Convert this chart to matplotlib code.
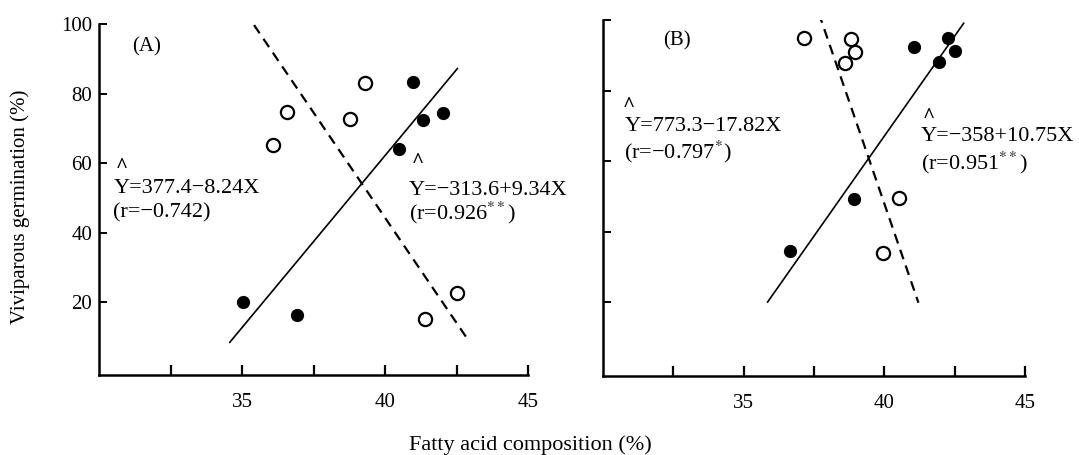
import matplotlib
matplotlib.use("Agg")
import matplotlib.pyplot as plt

plt.rcParams['font.family'] = ['Liberation Serif', 'DejaVu Serif']
plt.rcParams['mathtext.fontset'] = 'stix'

# Panel A data
a_open_x = [36.08, 36.57, 38.78, 39.30, 41.41, 42.53]
a_open_y = [65.3, 74.8, 72.6, 83.0, 15.0, 22.7]
a_fill_x = [35.05, 36.92, 40.47, 40.96, 41.33, 42.01]
a_fill_y = [20.0, 16.3, 64.1, 83.3, 72.3, 74.5]
a_dash_x = [35.42, 42.92]
a_dash_y = [99.7, 8.9]
a_solid_x = [34.57, 42.53]
a_solid_y = [8.4, 87.2]

# Panel B data
b_open_x = [37.14, 38.83, 38.96, 38.61, 40.52, 39.94]
b_open_y = [94.9, 94.6, 90.8, 87.7, 49.5, 33.9]
b_fill_x = [41.07, 42.27, 41.93, 38.92, 36.63, 42.52]
b_fill_y = [92.3, 94.9, 88.0, 49.2, 34.4, 91.3]
b_dash_x = [37.67, 41.21]
b_dash_y = [101.9, 19.8]
b_solid_x = [35.85, 42.82]
b_solid_y = [20.0, 99.1]

x_ticks = [32.5, 35, 37.5, 40, 42.5, 45]
x_ticklabels = ['', '35', '', '40', '', '45']
y_ticks = [20, 40, 60, 80, 100]

fig = plt.figure(figsize=(10.79, 4.55), dpi=100)
ax_a = fig.add_axes([0.0918, 0.1758, 0.3976, 0.7714])
ax_b = fig.add_axes([0.5589, 0.1736, 0.3911, 0.7824])


def draw_panel(ax, open_x, open_y, fill_x, fill_y, dash_x, dash_y, solid_x, solid_y, ylabels):
    ax.plot(dash_x, dash_y, color='black', lw=1.6, dashes=(4.5, 3))
    ax.plot(solid_x, solid_y, color='black', lw=1.2)
    ax.plot(open_x, open_y, 'o', ms=9.5, mfc='white', mec='black', mew=1.6, ls='none')
    ax.plot(fill_x, fill_y, 'o', ms=8.5, mfc='black', mec='black', ls='none')
    ax.set_xlim(30, 45)
    ax.set_ylim(-1, 100)
    ax.spines['top'].set_visible(False)
    ax.spines['right'].set_visible(False)
    for s in ['left', 'bottom']:
        ax.spines[s].set_linewidth(1.8)
    ax.set_xticks(x_ticks)
    ax.set_xticklabels(x_ticklabels, fontsize=15)
    ax.set_yticks(y_ticks)
    if ylabels:
        ax.set_yticklabels([str(v) for v in y_ticks], fontsize=15)
    else:
        ax.set_yticklabels([])
    ax.tick_params(axis='x', direction='in', length=7, width=1.6, pad=13)
    ax.tick_params(axis='y', direction='in', length=6, width=1.4, pad=5)


draw_panel(ax_a, a_open_x, a_open_y, a_fill_x, a_fill_y,
           a_dash_x, a_dash_y, a_solid_x, a_solid_y, True)
draw_panel(ax_b, b_open_x, b_open_y, b_fill_x, b_fill_y,
           b_dash_x, b_dash_y, b_solid_x, b_solid_y, False)

hat = dict(fontsize=15, fontweight='bold', va='center')
eq = dict(fontsize=16, va='center')

# Annotations, panel A
ax_a.text(31.17, 93.3, '(A)', fontsize=15, va='center')
ax_a.text(30.6, 59.0, '^', **hat)
ax_a.text(30.5, 52.8, 'Y=377.4−8.24X', **eq)
ax_a.text(30.5, 45.6, '(r=−0.742)', **eq)
ax_a.text(40.95, 60.2, '^', **hat)
ax_a.text(40.84, 52.1, 'Y=−313.6+9.34X', **eq)
ax_a.text(40.84, 45.6, '(r=0.926$^{**}$)', **eq)

# Annotations, panel B
ax_b.text(32.13, 94.1, '(B)', fontsize=15, va='center')
ax_b.text(30.7, 75.6, '^', **hat)
ax_b.text(30.76, 69.7, 'Y=773.3−17.82X', **eq)
ax_b.text(30.76, 62.6, '(r=−0.797$^{*}$)', **eq)
ax_b.text(41.35, 72.4, '^', **hat)
ax_b.text(41.31, 66.9, 'Y=−358+10.75X', **eq)
ax_b.text(41.31, 59.6, '(r=0.951$^{**}$)', **eq)

# Shared axis labels
fig.text(20 / 1079, 1 - 207 / 455, 'Viviparous germination (%)', rotation=90,
         fontsize=15, ha='center', va='center')
fig.text(530 / 1079, 1 - 445 / 455, 'Fatty acid composition (%)',
         fontsize=16, ha='center', va='center')

fig.savefig('out.png', dpi=100)
